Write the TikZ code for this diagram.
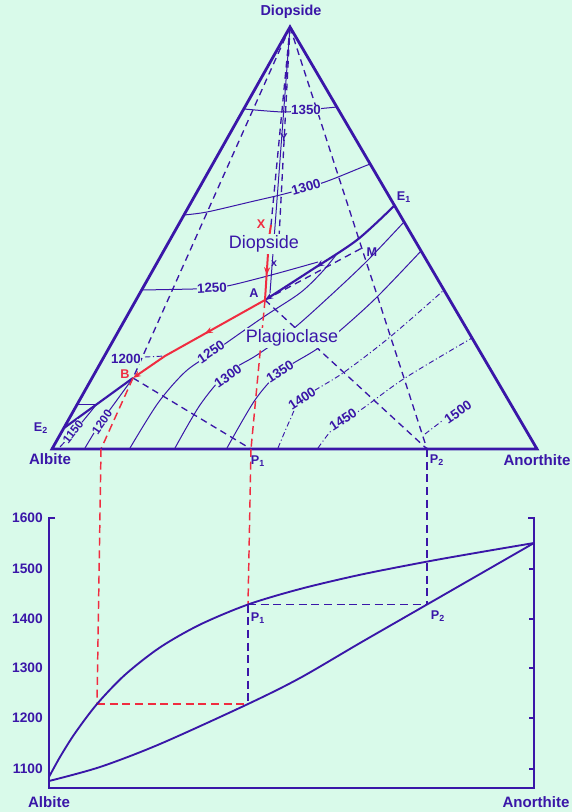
\documentclass[tikz,border=0pt]{standalone}
\usepackage{fontspec}
\setmainfont{Liberation Sans}
\usetikzlibrary{arrows.meta,decorations.markings}
\definecolor{bg}{RGB}{217,250,234}
\definecolor{ink}{RGB}{58,22,168}
\definecolor{rd}{RGB}{240,44,64}
\begin{document}
\begin{tikzpicture}[x=0.75pt,y=-0.75pt,
  edge/.style={draw=ink,line width=2.1pt},
  cot/.style={draw=ink,line width=1.6pt},
  iso/.style={draw=ink,line width=0.75pt},
  isodd/.style={draw=ink,line width=0.7pt,dash pattern=on 4pt off 2pt on 0.8pt off 2pt},
  tie/.style={draw=ink,line width=1pt,dash pattern=on 5pt off 3.5pt},
  rline/.style={draw=rd,line width=1.5pt},
  rdash/.style={draw=rd,line width=1.1pt,dash pattern=on 6pt off 3.5pt},
  bdash/.style={draw=ink,line width=1.2pt,dash pattern=on 6pt off 3.5pt},
  curve/.style={draw=ink,line width=1.4pt},
  tlab/.style={text=ink,font=\bfseries\fontsize{10}{10}\selectfont,inner sep=0.3pt,fill=bg},
  fieldlab/.style={text=ink,font=\fontsize{13.5}{14}\selectfont,inner sep=1pt,fill=bg},
  ptlab/.style={text=ink,font=\bfseries\fontsize{9.5}{10}\selectfont,inner sep=0pt},
  rlab/.style={text=rd,font=\bfseries\fontsize{9.5}{10}\selectfont,inner sep=0pt},
  cornerlab/.style={text=ink,font=\bfseries\fontsize{11.3}{12}\selectfont,inner sep=0pt},
  axlab/.style={text=ink,font=\bfseries\fontsize{10.3}{10}\selectfont,inner sep=0pt,anchor=east},
  midarrow/.style={postaction={decorate,decoration={markings,mark=at position #1 with {\arrow{Stealth[length=6pt,width=4.5pt]}}}}},
]
\fill[bg] (0,0) rectangle (572,812);
\useasboundingbox (0,0) rectangle (572,812);

% key points
\coordinate (Di) at (290,27);
\coordinate (Ab) at (52,449);
\coordinate (An) at (537,449);
\coordinate (E1) at (394,206);
\coordinate (E2) at (64,428);
\coordinate (B) at (133,378);
\coordinate (K) at (165,356);
\coordinate (A) at (265,300);
\coordinate (X) at (271,225);
\coordinate (Xb) at (269,238);
\coordinate (M) at (362,248);
\coordinate (P1) at (251,449);
\coordinate (P2) at (427,449);
\coordinate (Bf) at (101,449);
\coordinate (D2e) at (279,238);
\coordinate (Se) at (270,293);
\coordinate (LB) at (97,704);
\coordinate (SB) at (248,704);
\coordinate (LP1) at (248,604.5);
\coordinate (SP2) at (427,604.5);

% ---------- isotherms, diopside field ----------
\draw[iso] plot[smooth] coordinates {(244,109) (283,112) (306,110) (337,107)};
\draw[iso] plot[smooth] coordinates {(184,215) (207,212) (250,202) (288,193) (325,182) (365,166) (371,164)};
\draw[iso] plot[smooth] coordinates {(142,290) (193,289) (212,288) (232,285) (275,274) (318,262)};
\draw[isodd] (145,357) -- (K);
\draw[iso] (77,404) -- (96,404);

% ---------- isotherms, plagioclase field ----------
\draw[iso] plot[smooth] coordinates {(60,447) (78,427) (96,405)};
\draw[iso] plot[smooth] coordinates {(85,448) (99,425) (117,400) (B)};
\draw[iso] plot[smooth] coordinates {(130,448) (158,403) (185,372) (212,353) (262,318) (300,293) (322,272) (336,255)};
\draw[iso] plot[smooth] coordinates {(175,448) (200,405) (226,374) (257,355) (293,329) (330,296) (367,261) (404,222)};
\draw[iso] plot[smooth] coordinates {(227,448) (255,400) (280,372) (317,349) (343,328) (377,297) (421,251)};
\draw[isodd] plot[smooth] coordinates {(278,448) (290,420) (302,399) (343,373) (390,337) (444,290)};
\draw[isodd] plot[smooth] coordinates {(318,448) (330,432) (343,420) (362,409) (405,378) (472,338)};
\draw[isodd] (425,434) -- (442,421);

% ---------- construction lines ----------
\draw[tie] (Di) -- (B);
\draw[tie] (Di) -- (X);
\draw[tie] (Di) -- (D2e);
\draw[iso] (Di) -- (Se);
\draw[tie] (Di) -- (P2);
\draw[tie] (B) -- (P1);
\draw[tie] (A) -- (P2);
\draw[tie] (A) -- (M);

% ---------- cotectic ----------
\draw[cot] (E2) -- (B);
\draw[cot,midarrow=0.62,-{Stealth[length=6pt,width=4.5pt]}] plot[smooth] coordinates {(E1) (357,240) (310,271) (A)};

% ---------- red path ----------
\draw[rline] (X) -- (Xb);
\draw[rline,midarrow=0.6] (Xb) -- (A);
\draw[rline,midarrow=0.45,-{Stealth[length=6pt,width=4.5pt]}] (A) -- (K) -- (B);
\draw[rdash] (A) -- (P1);
\draw[rdash] (B) -- (Bf);

% ---------- triangle ----------
\draw[edge] (Ab) -- (Di) -- (An) -- cycle;

% ---------- projection to binary ----------
\draw[rdash] (Bf) -- (LB);
\draw[rdash] (LB) -- (SB);
\draw[rdash] (P1) -- (LP1);
\draw[bdash] (LP1) -- (SB);
\draw[bdash] (LP1) -- (SP2);
\draw[bdash] (P2) -- (SP2);

% ---------- binary diagram ----------
\draw[edge,line width=2pt] (55,518) -- (49,518) -- (49,788) -- (534,788) -- (534,518) -- (528,518);
\foreach \yy in {569,619,668,718,769} \draw[ink,line width=1.2pt] (534,\yy) -- (529,\yy);
\draw[curve] plot[smooth] coordinates {(49,777) (60,757) (75,733.2) (LB) (125,674.8) (160,647.4) (200,624.6) (LP1) (300,589) (360,574.8) (427,561.6) (480,552.2) (534,543)};
\draw[curve] plot[smooth] coordinates {(49,781) (100,767) (160,744) (SB) (300,678) (360,643) (SP2) (534,543)};
\node[axlab] (t16) at (43,518) {1600};
\node[axlab] (t15) at (43,569) {1500};
\node[axlab] (t14) at (43,619) {1400};
\node[axlab] (t13) at (43,668) {1300};
\node[axlab] (t12) at (43,718) {1200};
\node[axlab] (t11) at (43,769) {1100};
\node[cornerlab] (abB) at (49,802) {Albite};
\node[cornerlab] (anB) at (536,802) {Anorthite};
\node[ptlab] (p1B) at (258,618) {P\textsubscript{1}};
\node[ptlab] (p2B) at (438,616) {P\textsubscript{2}};

% ---------- labels ----------
\node[cornerlab,font=\bfseries\fontsize{10.8}{11}\selectfont] (diT) at (291,12) {Diopside};
\node[cornerlab] (abT) at (50,459) {Albite};
\node[cornerlab] (anT) at (537,460) {Anorthite};
\node[ptlab] (p1T) at (258,461) {P\textsubscript{1}};
\node[ptlab] (p2T) at (437,460) {P\textsubscript{2}};
\node[ptlab] (e1) at (404,197) {E\textsubscript{1}};
\node[ptlab] (e2) at (41,428) {E\textsubscript{2}};
\node[fieldlab] (fd) at (264,244) {Diopside};
\node[fieldlab] (fp) at (292,338) {Plagioclase};
\node[tlab] at (306,110) {1350};
\node[tlab,rotate=16] at (306,187) {1300};
\node[tlab,rotate=3] at (212,288) {1250};
\node[tlab] at (126,359) {1200};
\node[tlab,rotate=52,font=\bfseries\fontsize{8.8}{9}\selectfont] at (73,432) {1150};
\node[tlab,rotate=55,font=\bfseries\fontsize{8.8}{9}\selectfont] at (102,422) {1200};
\node[tlab,rotate=34] at (211,352) {1250};
\node[tlab,rotate=35] at (228,376) {1300};
\node[tlab,rotate=33] at (280,372) {1350};
\node[tlab,rotate=33] at (302,399) {1400};
\node[tlab,rotate=33] at (343,420) {1450};
\node[tlab,rotate=35] at (458,412) {1500};
\node[ptlab] (la) at (254,293) {A};
\node[ptlab] (lm) at (372,252) {M};
\node[ptlab,font=\bfseries\fontsize{8}{8}\selectfont] (lx) at (274,264) {x};
\node[ptlab,font=\bfseries\fontsize{8.5}{9}\selectfont] (ly) at (284,138) {Y};
\node[rlab] (lb) at (125,374) {B};
\node[rlab] (lX) at (261,224) {X};
\end{tikzpicture}
\end{document}
